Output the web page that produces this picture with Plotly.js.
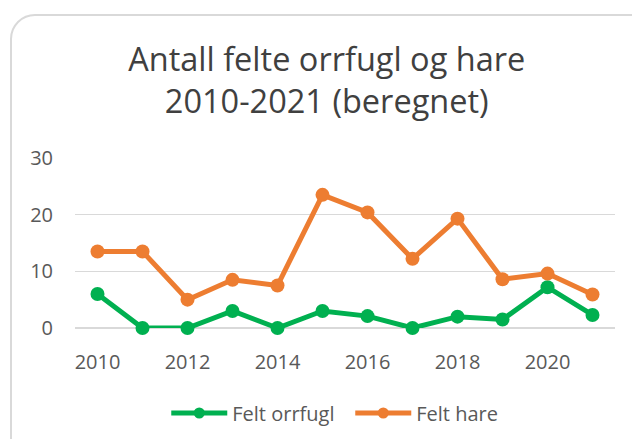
<!DOCTYPE html>
<html>
<head>
<meta charset="utf-8">
<script src="https://cdn.plot.ly/plotly-3.0.1.min.js"></script>
<style>
html,body{margin:0;padding:0;width:632px;height:439px;overflow:hidden;background:#fff;}
#frame{position:absolute;left:10px;top:14px;width:660px;height:470px;border:2px solid #d9d9d9;border-radius:25px;box-sizing:border-box;}
#chart{position:absolute;left:0;top:0;width:632px;height:439px;}
</style>
</head>
<body>
<div id="frame"></div>
<div id="chart"></div>
<script>
const years = [2010,2011,2012,2013,2014,2015,2016,2017,2018,2019,2020,2021];
const orrfugl = [6.0,0,0,3.0,0,3.0,2.1,0,2.0,1.5,7.2,2.3];
const hare = [13.5,13.5,5.0,8.5,7.5,23.5,20.4,12.2,19.3,8.6,9.6,5.9];
const xTicks = [2010,2012,2014,2016,2018,2020];
const yTicks = [0,10,20,30];
const names = ['Felt orrfugl','Felt hare'];
const colors = ['#00B050','#ED7D31'];

const font = 'Open Sans, sans-serif';
const series = [orrfugl, hare];
const traces = [];
series.forEach((s,i)=>{
  traces.push({x:years,y:s,type:'scatter',mode:'lines+markers',name:names[i],
    line:{color:colors[i],width:5},marker:{color:colors[i],size:14},
    showlegend:false,cliponaxis:false,hoverinfo:'skip'});
});
series.forEach((s,i)=>{
  traces.push({x:[null],y:[null],type:'scatter',mode:'lines+markers',name:names[i],
    line:{color:colors[i],width:5},marker:{color:colors[i],size:11},showlegend:true});
});

const layout = {
  width:632,height:439,
  paper_bgcolor:'rgba(0,0,0,0)',plot_bgcolor:'rgba(0,0,0,0)',
  margin:{l:75,r:17,t:158,b:111,autoexpand:false},
  title:{text:'Antall felte orrfugl og hare<br>2010-2021 (beregnet)',
    font:{family:font,size:32.5,color:'#404040'},
    x:0.517,xref:'container',xanchor:'center',y:0.838,yref:'container',yanchor:'middle'},
  xaxis:{range:[2009.5,2021.5],tickvals:xTicks,ticktext:xTicks.map(String),
    showgrid:false,zeroline:false,showline:false,ticks:'',automargin:false,
    tickfont:{family:font,size:20,color:'#595959'},ticklabelstandoff:20},
  yaxis:{range:[0,30],tickvals:yTicks,showgrid:true,gridcolor:'#d9d9d9',gridwidth:1.5,
    zeroline:true,zerolinecolor:'#d9d9d9',zerolinewidth:1.5,showline:false,ticks:'',automargin:false,
    tickfont:{family:font,size:20,color:'#595959'},ticklabelstandoff:21},
  legend:{orientation:'h',x:0.169,xanchor:'left',y:-0.50,yanchor:'middle',
    entrywidth:113,entrywidthmode:'pixels',
    font:{family:font,size:20,color:'#595959'},itemwidth:56,bgcolor:'rgba(0,0,0,0)'},
  showlegend:true
};
Plotly.newPlot('chart',traces,layout,{staticPlot:true,displayModeBar:false});
</script>
</body>
</html>
